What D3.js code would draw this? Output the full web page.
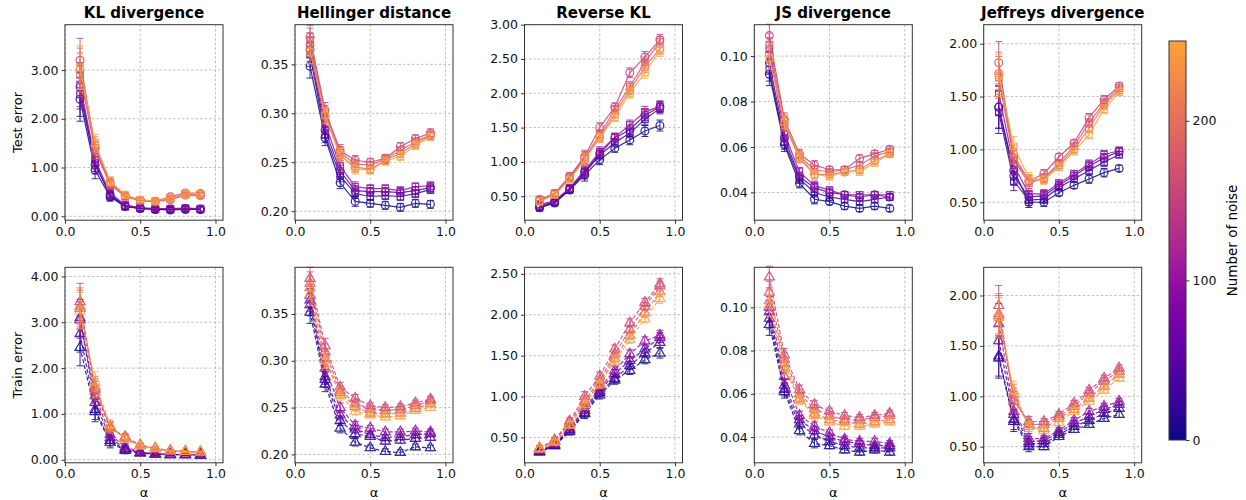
<!DOCTYPE html>
<html>
<head>
<meta charset="utf-8">
<script src="https://cdn.jsdelivr.net/npm/d3@7"></script>
<style>
  body { margin: 0; background: #fff; }
  svg { font-family: "DejaVu Sans", sans-serif; }
</style>
</head>
<body>
<svg width="1246" height="500"></svg>
<script>
// alpha values on x, noise counts per series (navy -> orange)
var alphas = [0.1, 0.2, 0.3, 0.4, 0.5, 0.6, 0.7, 0.8, 0.9];
var noiseLevels = [0, 25, 50, 100, 150, 175, 200, 250];
var titles = ["KL divergence", "Hellinger distance", "Reverse KL", "JS divergence", "Jeffreys divergence"];
var rowLabels = ["Test error", "Train error"];
var cbarTicks = [0, 100, 200];
var xTicks = [0, 0.5, 1.0];

// test error, one row per noise level
var klTest = [
  [2.40, 0.95, 0.40, 0.20, 0.16, 0.14, 0.13, 0.14, 0.14],
  [2.50, 1.10, 0.42, 0.20, 0.16, 0.14, 0.14, 0.16, 0.14],
  [2.65, 1.05, 0.45, 0.22, 0.17, 0.15, 0.15, 0.16, 0.15],
  [2.70, 1.15, 0.48, 0.23, 0.18, 0.16, 0.16, 0.17, 0.16],
  [3.20, 1.40, 0.68, 0.42, 0.33, 0.31, 0.40, 0.48, 0.47],
  [2.90, 1.35, 0.65, 0.40, 0.32, 0.30, 0.36, 0.45, 0.44],
  [3.00, 1.45, 0.70, 0.43, 0.33, 0.30, 0.34, 0.43, 0.42],
  [3.05, 1.50, 0.72, 0.44, 0.34, 0.31, 0.38, 0.46, 0.46]
];
var hellTest = [
  [0.348, 0.275, 0.229, 0.210, 0.208, 0.206, 0.204, 0.208, 0.207],
  [0.360, 0.278, 0.236, 0.218, 0.215, 0.216, 0.215, 0.218, 0.222],
  [0.365, 0.283, 0.241, 0.221, 0.220, 0.220, 0.219, 0.221, 0.224],
  [0.370, 0.290, 0.246, 0.225, 0.223, 0.223, 0.221, 0.225, 0.226],
  [0.378, 0.303, 0.262, 0.252, 0.250, 0.254, 0.266, 0.274, 0.280],
  [0.375, 0.300, 0.260, 0.248, 0.247, 0.253, 0.262, 0.271, 0.278],
  [0.370, 0.297, 0.257, 0.245, 0.243, 0.252, 0.259, 0.269, 0.277],
  [0.363, 0.298, 0.258, 0.243, 0.242, 0.251, 0.256, 0.267, 0.276]
];
var rklTest = [
  [0.33, 0.40, 0.59, 0.81, 1.03, 1.20, 1.32, 1.45, 1.53],
  [0.34, 0.41, 0.60, 0.84, 1.10, 1.28, 1.42, 1.62, 1.78],
  [0.36, 0.42, 0.61, 0.86, 1.12, 1.35, 1.47, 1.68, 1.80],
  [0.38, 0.43, 0.62, 0.88, 1.15, 1.36, 1.54, 1.73, 1.81],
  [0.45, 0.54, 0.79, 1.08, 1.50, 1.80, 2.30, 2.53, 2.78],
  [0.44, 0.54, 0.77, 1.06, 1.40, 1.76, 2.10, 2.45, 2.75],
  [0.43, 0.53, 0.76, 1.04, 1.36, 1.70, 2.05, 2.38, 2.65],
  [0.42, 0.52, 0.74, 1.03, 1.35, 1.65, 2.00, 2.30, 2.62]
];
var jsTest = [
  [0.092, 0.061, 0.044, 0.037, 0.036, 0.034, 0.033, 0.034, 0.033],
  [0.094, 0.062, 0.046, 0.040, 0.038, 0.037, 0.036, 0.037, 0.038],
  [0.097, 0.064, 0.047, 0.042, 0.040, 0.039, 0.038, 0.039, 0.038],
  [0.103, 0.066, 0.049, 0.043, 0.041, 0.039, 0.039, 0.039, 0.039],
  [0.109, 0.072, 0.057, 0.052, 0.050, 0.050, 0.055, 0.057, 0.059],
  [0.105, 0.071, 0.056, 0.050, 0.049, 0.050, 0.052, 0.056, 0.058],
  [0.101, 0.070, 0.055, 0.048, 0.048, 0.049, 0.050, 0.054, 0.057],
  [0.099, 0.071, 0.056, 0.048, 0.047, 0.049, 0.049, 0.053, 0.057]
];
var jefTest = [
  [1.40, 0.80, 0.50, 0.50, 0.59, 0.66, 0.72, 0.78, 0.82],
  [1.35, 0.70, 0.52, 0.53, 0.64, 0.72, 0.80, 0.88, 0.95],
  [1.40, 0.75, 0.55, 0.56, 0.66, 0.75, 0.84, 0.92, 0.98],
  [1.53, 0.85, 0.58, 0.58, 0.68, 0.77, 0.86, 0.95, 0.99],
  [1.82, 0.92, 0.70, 0.77, 0.93, 1.06, 1.30, 1.47, 1.60],
  [1.68, 0.90, 0.68, 0.73, 0.87, 1.03, 1.25, 1.44, 1.58],
  [1.72, 0.95, 0.70, 0.72, 0.85, 1.00, 1.20, 1.42, 1.56],
  [1.70, 1.03, 0.73, 0.71, 0.83, 0.98, 1.14, 1.38, 1.54]
];

// train error
var klTrain = [
  [2.45, 1.05, 0.38, 0.20, 0.15, 0.12, 0.11, 0.11, 0.10],
  [2.75, 1.10, 0.42, 0.22, 0.15, 0.12, 0.11, 0.11, 0.10],
  [3.10, 1.25, 0.48, 0.25, 0.16, 0.13, 0.12, 0.11, 0.11],
  [3.05, 1.40, 0.55, 0.28, 0.17, 0.13, 0.12, 0.12, 0.11],
  [3.45, 1.50, 0.70, 0.50, 0.32, 0.25, 0.20, 0.18, 0.17],
  [3.30, 1.55, 0.70, 0.48, 0.31, 0.25, 0.20, 0.18, 0.17],
  [3.35, 1.60, 0.72, 0.47, 0.31, 0.24, 0.19, 0.18, 0.17],
  [3.25, 1.70, 0.75, 0.45, 0.30, 0.24, 0.19, 0.18, 0.17]
];
var hellTrain = [
  [0.352, 0.275, 0.228, 0.213, 0.207, 0.203, 0.202, 0.208, 0.207],
  [0.360, 0.280, 0.236, 0.222, 0.219, 0.214, 0.215, 0.217, 0.218],
  [0.365, 0.283, 0.242, 0.227, 0.221, 0.218, 0.219, 0.221, 0.222],
  [0.370, 0.292, 0.250, 0.231, 0.228, 0.224, 0.224, 0.225, 0.224],
  [0.388, 0.316, 0.272, 0.260, 0.252, 0.250, 0.251, 0.255, 0.259],
  [0.383, 0.310, 0.268, 0.255, 0.248, 0.247, 0.248, 0.252, 0.257],
  [0.378, 0.302, 0.266, 0.251, 0.244, 0.243, 0.244, 0.249, 0.254],
  [0.371, 0.300, 0.263, 0.246, 0.242, 0.240, 0.241, 0.247, 0.250]
];
var rklTrain = [
  [0.32, 0.40, 0.57, 0.79, 1.02, 1.20, 1.32, 1.45, 1.53],
  [0.33, 0.40, 0.59, 0.80, 1.05, 1.22, 1.38, 1.53, 1.66],
  [0.33, 0.41, 0.60, 0.83, 1.07, 1.28, 1.44, 1.58, 1.72],
  [0.34, 0.42, 0.62, 0.85, 1.10, 1.32, 1.52, 1.68, 1.75],
  [0.37, 0.47, 0.70, 1.00, 1.25, 1.58, 1.90, 2.15, 2.38],
  [0.37, 0.46, 0.68, 0.95, 1.20, 1.52, 1.82, 2.10, 2.35],
  [0.36, 0.45, 0.66, 0.92, 1.17, 1.47, 1.75, 2.02, 2.28],
  [0.36, 0.44, 0.65, 0.90, 1.15, 1.43, 1.70, 1.95, 2.20]
];
var jsTrain = [
  [0.092, 0.061, 0.043, 0.037, 0.036, 0.034, 0.033, 0.034, 0.033],
  [0.095, 0.062, 0.046, 0.041, 0.038, 0.036, 0.035, 0.035, 0.035],
  [0.098, 0.064, 0.048, 0.043, 0.040, 0.038, 0.037, 0.036, 0.036],
  [0.100, 0.068, 0.050, 0.045, 0.042, 0.039, 0.038, 0.038, 0.037],
  [0.114, 0.078, 0.062, 0.055, 0.052, 0.050, 0.049, 0.050, 0.051],
  [0.107, 0.076, 0.060, 0.053, 0.050, 0.048, 0.048, 0.049, 0.050],
  [0.103, 0.074, 0.058, 0.051, 0.048, 0.047, 0.046, 0.047, 0.048],
  [0.101, 0.072, 0.057, 0.050, 0.047, 0.045, 0.045, 0.046, 0.047]
];
var jefTrain = [
  [1.38, 0.75, 0.50, 0.50, 0.60, 0.67, 0.72, 0.78, 0.82],
  [1.40, 0.77, 0.53, 0.53, 0.62, 0.70, 0.76, 0.83, 0.88],
  [1.55, 0.82, 0.55, 0.56, 0.64, 0.73, 0.80, 0.87, 0.92],
  [1.72, 0.85, 0.58, 0.58, 0.66, 0.76, 0.85, 0.90, 0.95],
  [1.90, 0.95, 0.75, 0.75, 0.82, 0.93, 1.06, 1.18, 1.28],
  [1.80, 0.98, 0.72, 0.72, 0.80, 0.90, 1.03, 1.15, 1.25],
  [1.82, 1.02, 0.70, 0.68, 0.78, 0.87, 0.98, 1.10, 1.22],
  [1.78, 1.05, 0.70, 0.66, 0.74, 0.85, 0.95, 1.06, 1.18]
];

// typical error bar half-width at each alpha
var klTestErr = [0.45, 0.18, 0.09, 0.06, 0.05, 0.04, 0.05, 0.05, 0.05];
var hellTestErr = [0.012, 0.008, 0.006, 0.005, 0.004, 0.004, 0.004, 0.004, 0.004];
var rklTestErr = [0.05, 0.04, 0.05, 0.09, 0.07, 0.06, 0.07, 0.08, 0.08];
var jsTestErr = [0.005, 0.003, 0.002, 0.002, 0.0014, 0.0014, 0.0014, 0.0014, 0.0014];
var jefTestErr = [0.2, 0.09, 0.05, 0.04, 0.03, 0.03, 0.04, 0.04, 0.03];
var klTrainErr = [0.40, 0.22, 0.12, 0.07, 0.04, 0.03, 0.02, 0.02, 0.02];
var hellTrainErr = [0.012, 0.008, 0.005, 0.004, 0.003, 0.003, 0.003, 0.003, 0.003];
var rklTrainErr = [0.03, 0.03, 0.04, 0.06, 0.05, 0.05, 0.05, 0.05, 0.06];
var jsTrainErr = [0.005, 0.003, 0.002, 0.002, 0.0014, 0.0014, 0.0014, 0.0014, 0.0014];
var jefTrainErr = [0.2, 0.1, 0.05, 0.03, 0.03, 0.03, 0.03, 0.03, 0.03];

var panels = [
  {row: 0, col: 0, data: klTest, err: klTestErr, ylim: [-0.08, 3.93], ticks: [0, 1, 2, 3]},
  {row: 0, col: 1, data: hellTest, err: hellTestErr, ylim: [0.1908, 0.3905], ticks: [0.20, 0.25, 0.30, 0.35]},
  {row: 0, col: 2, data: rklTest, err: rklTestErr, ylim: [0.15, 3.0], ticks: [0.5, 1.0, 1.5, 2.0, 2.5, 3.0]},
  {row: 0, col: 3, data: jsTest, err: jsTestErr, ylim: [0.0278, 0.1138], ticks: [0.04, 0.06, 0.08, 0.10]},
  {row: 0, col: 4, data: jefTest, err: jefTestErr, ylim: [0.33, 2.18], ticks: [0.5, 1.0, 1.5, 2.0]},
  {row: 1, col: 0, data: klTrain, err: klTrainErr, ylim: [-0.066, 4.2], ticks: [0, 1, 2, 3, 4]},
  {row: 1, col: 1, data: hellTrain, err: hellTrainErr, ylim: [0.191, 0.3999], ticks: [0.20, 0.25, 0.30, 0.35]},
  {row: 1, col: 2, data: rklTrain, err: rklTrainErr, ylim: [0.19, 2.58], ticks: [0.5, 1.0, 1.5, 2.0, 2.5]},
  {row: 1, col: 3, data: jsTrain, err: jsTrainErr, ylim: [0.0281, 0.1185], ticks: [0.04, 0.06, 0.08, 0.10]},
  {row: 1, col: 4, data: jefTrain, err: jefTrainErr, ylim: [0.34, 2.28], ticks: [0.5, 1.0, 1.5, 2.0]}
];

var svg = d3.select("svg");
var axLeft = [65, 295, 524.5, 754.3, 983.7];
var axTop = [24.7, 267.3];
var axW = 158, axH = 195.5;
var cmap = function (n) { return d3.interpolatePlasma(n / 250 * 0.79); };

var x = d3.scaleLinear().domain([0, 1.05]).range([0, axW]);

panels.forEach(function (p) {
  var g = svg.append("g").attr("transform", "translate(" + axLeft[p.col] + "," + axTop[p.row] + ")");
  var y = d3.scaleLinear().domain(p.ylim).range([axH, 0]);

  // grid
  g.append("g").selectAll("line").data(xTicks).enter().append("line")
    .attr("x1", function (d) { return x(d); }).attr("x2", function (d) { return x(d); })
    .attr("y1", 0).attr("y2", axH)
    .attr("stroke", "#b0b0b0").attr("stroke-width", 0.8).attr("stroke-dasharray", "2.5,2");
  g.append("g").selectAll("line").data(p.ticks).enter().append("line")
    .attr("y1", function (d) { return y(d); }).attr("y2", function (d) { return y(d); })
    .attr("x1", 0).attr("x2", axW)
    .attr("stroke", "#b0b0b0").attr("stroke-width", 0.8).attr("stroke-dasharray", "2.5,2");

  var plot = g.append("g");
  var dashed = p.row === 1;

  p.data.forEach(function (vals, si) {
    var col = cmap(noiseLevels[si]);
    var pts = vals.map(function (v, i) { return {a: alphas[i], v: v, e: p.err[i]}; });
    var sg = plot.append("g").attr("opacity", 0.85);

    var line = d3.line().x(function (d) { return x(d.a); }).y(function (d) { return y(d.v); });
    sg.append("path").datum(pts).attr("d", line)
      .attr("fill", "none").attr("stroke", col).attr("stroke-width", 1.2)
      .attr("stroke-dasharray", dashed ? "4,2" : null);

    // error bars
    sg.selectAll(".eb").data(pts).enter().append("path")
      .attr("d", function (d) {
        var cx = x(d.a), y0 = y(d.v - d.e), y1 = y(d.v + d.e);
        return "M" + cx + "," + y0 + "V" + y1 +
          "M" + (cx - 3.5) + "," + y0 + "H" + (cx + 3.5) +
          "M" + (cx - 3.5) + "," + y1 + "H" + (cx + 3.5);
      })
      .attr("fill", "none").attr("stroke", col).attr("stroke-width", 1);

    // markers
    var sym;
    if (dashed) sym = d3.symbol().type(d3.symbolTriangle).size(44);
    else sym = d3.symbol().type(si % 2 === 0 ? d3.symbolCircle : d3.symbolSquare).size(si % 2 === 0 ? 48 : 42);
    sg.selectAll(".mk").data(pts).enter().append("path")
      .attr("d", sym)
      .attr("transform", function (d) { return "translate(" + x(d.a) + "," + y(d.v) + ")"; })
      .attr("fill", "none").attr("stroke", col).attr("stroke-width", 1.2);
  });

  // spines
  g.append("rect").attr("width", axW).attr("height", axH)
    .attr("fill", "none").attr("stroke", "#333").attr("stroke-width", 1);

  var yAxis = d3.axisLeft(y).tickValues(p.ticks).tickFormat(d3.format(".2f")).tickSize(3.5).tickPadding(3);
  var ya = g.append("g").call(yAxis);
  var xAxis = d3.axisBottom(x).tickValues(xTicks).tickFormat(d3.format(".1f")).tickSize(3.5).tickPadding(3);
  var xa = g.append("g").attr("transform", "translate(0," + axH + ")").call(xAxis);
  [ya, xa].forEach(function (a) {
    a.select(".domain").remove();
    a.selectAll("line").attr("stroke", "#333");
    a.selectAll("text").attr("font-size", "12.5px").attr("fill", "#111")
      .attr("font-family", "DejaVu Sans, sans-serif");
  });

  if (p.row === 0) {
    g.append("text").attr("x", axW / 2).attr("y", -7).attr("text-anchor", "middle")
      .attr("font-size", "15px").attr("font-weight", "bold").text(titles[p.col]);
  } else {
    g.append("text").attr("x", axW / 2).attr("y", axH + 34).attr("text-anchor", "middle")
      .attr("font-size", "13px").text("α");
  }
});

// row labels
rowLabels.forEach(function (t, r) {
  svg.append("text").attr("transform", "translate(22," + (axTop[r] + axH / 2) + ") rotate(-90)")
    .attr("text-anchor", "middle").attr("font-size", "13px").text(t);
});

// colorbar
var cbX = 1169, cbY = 41, cbW = 17, cbH = 399;
var cy = d3.scaleLinear().domain([0, 250]).range([cbY + cbH, cbY]);
var grad = svg.append("defs").append("linearGradient").attr("id", "cb")
  .attr("x1", 0).attr("y1", 1).attr("x2", 0).attr("y2", 0);
d3.range(0, 1.0001, 0.05).forEach(function (t) {
  grad.append("stop").attr("offset", t).attr("stop-color", cmap(t * 250));
});
svg.append("rect").attr("x", cbX).attr("y", cbY).attr("width", cbW).attr("height", cbH)
  .attr("fill", "url(#cb)").attr("stroke", "#333").attr("stroke-width", 1);
var cAxis = d3.axisRight(cy).tickValues(cbarTicks).tickSize(3.5).tickPadding(3);
var ca = svg.append("g").attr("transform", "translate(" + (cbX + cbW) + ",0)").call(cAxis);
ca.select(".domain").remove();
ca.selectAll("line").attr("stroke", "#333");
ca.selectAll("text").attr("font-size", "12.5px").attr("fill", "#111").attr("font-family", "DejaVu Sans, sans-serif");
svg.append("text").attr("transform", "translate(1237," + (cbY + cbH / 2) + ") rotate(-90)")
  .attr("text-anchor", "middle").attr("font-size", "13.5px").text("Number of noise");
</script>
</body>
</html>
